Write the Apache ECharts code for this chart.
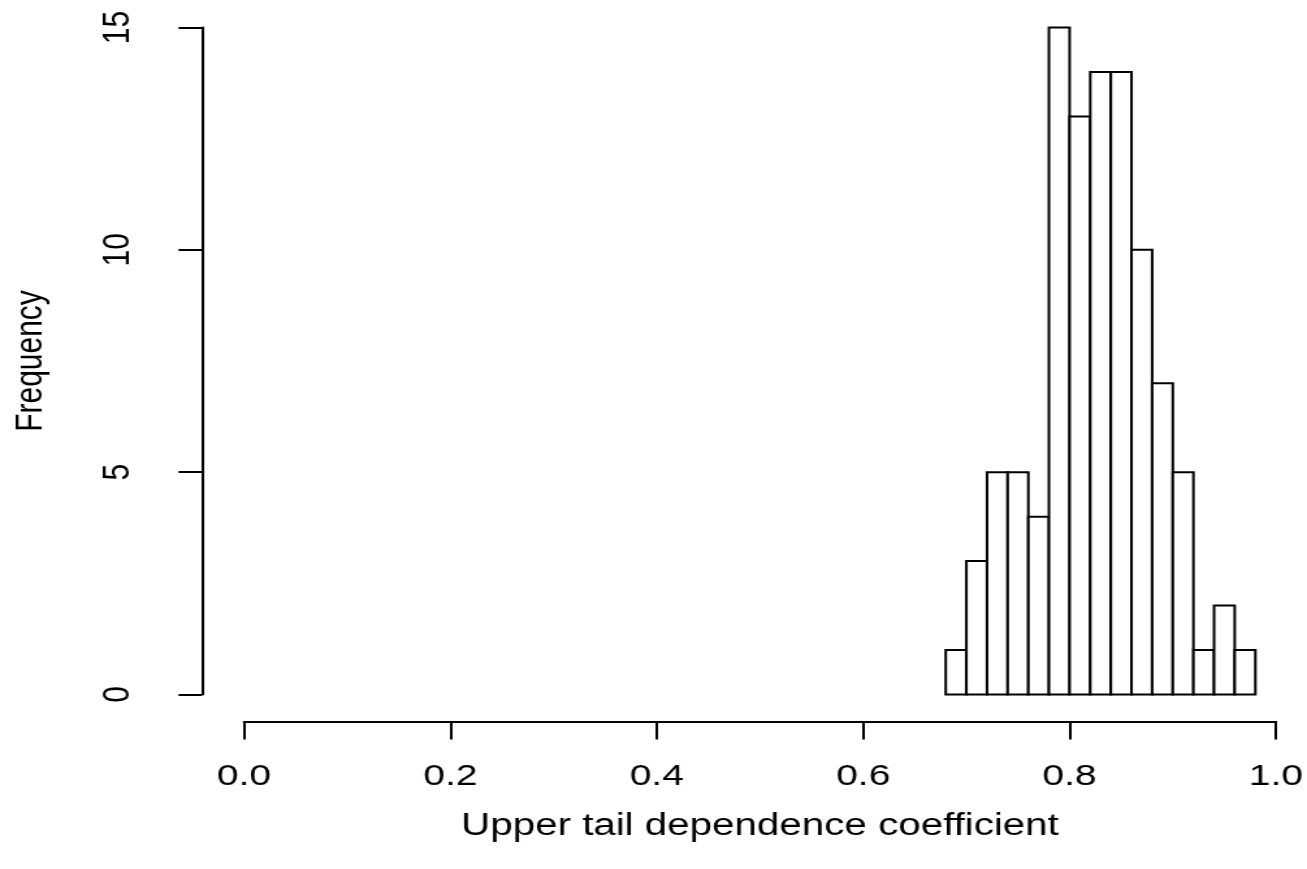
<!DOCTYPE html>
<html>
<head>
<meta charset="utf-8">
<script src="https://cdn.jsdelivr.net/npm/echarts@6/dist/echarts.min.js"></script>
<style>
  html, body { margin: 0; padding: 0; background: #fff; overflow: hidden; }
  /* the plot is laid out on a narrower canvas and widened to the full page */
  #chart { width: 1005px; height: 869px; transform: scaleX(1.3005); transform-origin: 0 0; }
</style>
</head>
<body>
<div id="chart"></div>
<script>
// Histogram bins: left edges (width 0.02) and their counts
const binStarts = [0.68, 0.70, 0.72, 0.74, 0.76, 0.78, 0.80, 0.82, 0.84, 0.86, 0.88, 0.90, 0.92, 0.94, 0.96];
const binWidth = 0.02;
const counts = [1, 3, 5, 5, 4, 15, 13, 14, 14, 10, 7, 5, 1, 2, 1];

// Axis ticks
const xTicks = [0.0, 0.2, 0.4, 0.6, 0.8, 1.0];
const yTicks = [0, 5, 10, 15];

const xTitle = 'Upper tail dependence coefficient';
const yTitle = 'Frequency';

const font = 'Liberation Sans, Arial, sans-serif';
const ink = '#000';

const bins = binStarts.map((lo, i) => [lo, lo + binWidth, counts[i]]);

const chart = echarts.init(document.getElementById('chart'), null, { renderer: 'canvas' });

chart.setOption({
  backgroundColor: '#fff',
  animation: false,
  grid: { left: 187.6, right: 23.8, top: 27.5, bottom: 174.5, containLabel: false },
  xAxis: {
    type: 'value',
    min: xTicks[0],
    max: xTicks[xTicks.length - 1],
    interval: 0.2,
    offset: 27,
    name: xTitle,
    nameLocation: 'middle',
    nameGap: 89,
    nameTextStyle: { color: ink, fontFamily: font, fontSize: 31 },
    axisLine: { show: true, onZero: false, lineStyle: { color: ink, width: 2 } },
    axisTick: { show: true, length: 18, lineStyle: { color: ink, width: 2 } },
    axisLabel: {
      color: ink, fontFamily: font, fontSize: 30, margin: 40,
      formatter: v => v.toFixed(1)
    },
    splitLine: { show: false }
  },
  yAxis: {
    type: 'value',
    min: yTicks[0],
    max: yTicks[yTicks.length - 1],
    interval: 5,
    offset: 32.3,
    name: yTitle,
    nameLocation: 'middle',
    nameGap: 117,
    nameRotate: 90,
    nameTextStyle: { color: ink, fontFamily: font, fontSize: 30 },
    axisLine: { show: true, onZero: false, lineStyle: { color: ink, width: 2 } },
    axisTick: { show: true, length: 18, lineStyle: { color: ink, width: 2 } },
    axisLabel: {
      color: ink, fontFamily: font, fontSize: 30, margin: 50, rotate: 90
    },
    splitLine: { show: false }
  },
  series: [{
    type: 'custom',
    data: bins,
    encode: { x: [0, 1], y: 2 },
    renderItem: function (params, api) {
      const p0 = api.coord([api.value(0), api.value(2)]);
      const p1 = api.coord([api.value(1), 0]);
      return {
        type: 'rect',
        shape: { x: p0[0], y: p0[1], width: p1[0] - p0[0], height: p1[1] - p0[1] },
        style: { fill: '#fff', stroke: ink, lineWidth: 2 }
      };
    }
  }]
});
</script>
</body>
</html>
